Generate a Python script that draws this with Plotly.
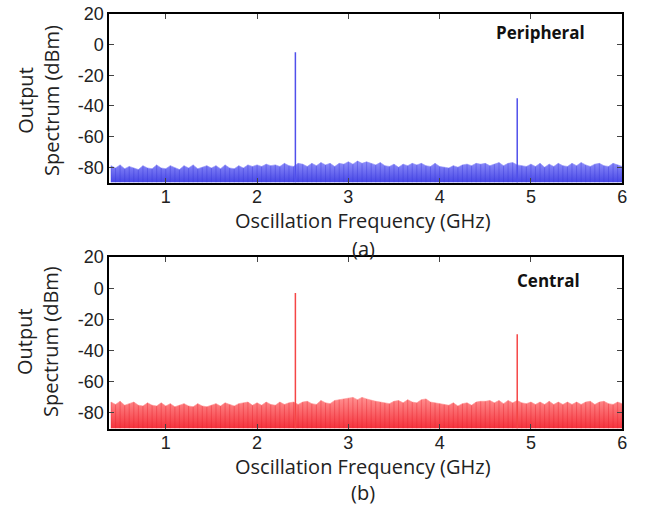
import plotly.graph_objects as go

# ---------------- data ----------------
freq_start = 0.40
freq_step = 0.05
n_points = 113
noise_freq = [round(freq_start + freq_step * i, 2) for i in range(n_points)]

# upper envelope of the noise floor (dBm)
periph_noise = [
    -79, -80.5, -78.5, -81, -79.5, -80.5, -81.5, -79, -80.5, -81, -78.5, -80.5,
    -81, -79, -80.5, -81.5, -79, -80.5, -78.5, -81, -80, -79,
    -80.5, -79, -81, -78.5, -80.5, -81, -79, -80.5, -78.5, -79.5,
    -78.5, -79.5, -78, -79, -78.5, -79.5, -77.5, -79, -79.5, -77.5,
    -78, -79.5, -77.5, -79, -77, -78.5, -77.5, -79.5, -77.5, -78,
    -76.5, -78, -76, -77.5, -76.5, -77.5, -78.5, -77, -79, -79.5,
    -78, -80, -78, -79, -77.5, -78.5, -77.5, -79, -79.5, -77.5,
    -79.5, -80, -80.5, -79, -80, -78.5, -78, -79, -77.5, -78,
    -77.5, -79, -78, -77, -79, -77.5, -77, -78.5, -79, -79.5,
    -78, -79.5, -77.5, -80, -78, -79.5, -77.5, -79, -79.5, -77.5,
    -79, -77, -78.5, -79.5, -78, -77.5, -79, -79.5, -77.5, -78.5,
    -79.5,
]
central_noise = [
    -73, -74.5, -72.5, -75, -74, -73, -75, -75.5, -73.5, -75, -75.5, -73.5,
    -75.5, -74, -76, -75, -74, -75.5, -76, -74, -75.5, -76,
    -75, -74, -75.5, -73.5, -74.5, -75.5, -74, -73.5, -73, -75,
    -73.5, -75, -73, -74.5, -75, -73, -74.5, -73.5, -73, -74.5,
    -73, -72.5, -74, -74.5, -72, -73.5, -74, -72, -71.5, -71,
    -70.5, -70, -71.5, -70, -71, -72, -72.5, -73, -73.5, -74,
    -72.5, -72, -73.5, -71.5, -73, -73.5, -71.5, -71, -73, -73.5,
    -74, -74.5, -75, -73.5, -75.5, -74, -73.5, -75, -73, -72.5,
    -72.5, -72, -73.5, -72, -74, -72, -73.5, -72, -73.5, -74,
    -73, -74.5, -73, -74.5, -72.5, -74.5, -73, -74.5, -73, -74.5,
    -73, -74.5, -73, -72.5, -74.5, -73, -72.5, -74, -74.5, -73,
    -74,
]

peak_freq = [2.42, 4.85]
periph_peaks = [-5, -35]
central_peaks = [-3, -29.5]

axis_floor = -90
x_ticks = [1, 2, 3, 4, 5, 6]
y_ticks = [-80, -60, -40, -20, 0, 20]
y_tick_text = ["-80", "-60", "-40", "-20", "0", "20"]
panel_labels = ["Peripheral", "Central"]
sub_labels = ["(a)", "(b)"]

# ---------------- figure ----------------
W, H = 654, 507
fig = go.Figure()

panels = [
    dict(noise=periph_noise, peaks=periph_peaks, xa="x", ya="y",
         top="rgb(145,145,250)", bottom="rgb(70,70,230)",
         stripe="rgba(55,55,215,0.55)", peak="rgb(80,80,235)"),
    dict(noise=central_noise, peaks=central_peaks, xa="x2", ya="y2",
         top="rgb(255,145,145)", bottom="rgb(245,50,60)",
         stripe="rgba(225,30,40,0.5)", peak="rgb(245,70,70)"),
]

for p in panels:
    fig.add_trace(go.Scatter(
        x=noise_freq, y=[axis_floor] * len(noise_freq), mode="lines",
        line=dict(width=0, color="rgba(0,0,0,0)"), hoverinfo="skip",
        xaxis=p["xa"], yaxis=p["ya"], showlegend=False))
    fig.add_trace(go.Scatter(
        x=noise_freq, y=p["noise"], mode="lines",
        line=dict(width=0.6, color=p["top"]), fill="tonexty",
        fillgradient=dict(type="vertical",
                          colorscale=[[0, p["bottom"]], [1, p["top"]]]),
        xaxis=p["xa"], yaxis=p["ya"], showlegend=False))
    # individual spectral sample lines (texture of the noise floor)
    sx, sy = [], []
    for f, v in zip(noise_freq, p["noise"]):
        sx += [f, f, None]
        sy += [axis_floor, v, None]
    fig.add_trace(go.Scatter(
        x=sx, y=sy, mode="lines", line=dict(width=0.7, color=p["stripe"]),
        hoverinfo="skip", xaxis=p["xa"], yaxis=p["ya"], showlegend=False))
    px, py = [], []
    for f, v in zip(peak_freq, p["peaks"]):
        px += [f, f, None]
        py += [axis_floor, v, None]
    fig.add_trace(go.Scatter(
        x=px, y=py, mode="lines", line=dict(width=1.5, color=p["peak"]),
        xaxis=p["xa"], yaxis=p["ya"], showlegend=False))

# pixel placement (page pixels from top-left)
x0, x1 = 110 / W, 627 / W
doms = [(1 - 176 / H, 1 - 4 / H), (1 - 427 / H, 1 - 252 / H)]

tick_font = dict(family="Liberation Sans, Arial", size=18, color="#222")
axis_common = dict(showline=True, linecolor="black", linewidth=1.5,
                   mirror="allticks", ticks="inside", ticklen=5,
                   tickcolor="#444", showgrid=False, zeroline=False,
                   tickfont=tick_font)

fig.update_layout(
    width=W, height=H, margin=dict(l=0, r=0, t=0, b=0),
    paper_bgcolor="white", plot_bgcolor="white",
    xaxis=dict(domain=[x0, x1], range=[0.38, 6], tickvals=x_ticks,
               anchor="y", ticklabelstandoff=-3, **axis_common),
    yaxis=dict(domain=list(doms[0]), range=[-90, 20], tickvals=y_ticks,
               ticktext=y_tick_text, anchor="x", **axis_common),
    xaxis2=dict(domain=[x0, x1], range=[0.38, 6], tickvals=x_ticks,
                anchor="y2", ticklabelstandoff=-3, **axis_common),
    yaxis2=dict(domain=list(doms[1]), range=[-90, 20], tickvals=y_ticks,
                ticktext=y_tick_text, anchor="x2", **axis_common),
)

title_font = dict(family="Open Sans", size=20, color="#222")
ytitle_y = [92, 338]
xtitle_y = [215, 466]
sub_y = [243, 492]
lab_xy = [(545, 23), (553, 276)]
ann = []
for i, (lab, sub) in enumerate(zip(panel_labels, sub_labels)):
    ann.append(dict(text="Output<br>Spectrum (dBm)", textangle=-90,
                    x=38 / W, y=1 - ytitle_y[i] / H,
                    xref="paper", yref="paper", showarrow=False,
                    font=title_font, xanchor="center", yanchor="middle"))
    ann.append(dict(text="Oscillation Frequency (GHz)", x=366 / W,
                    y=1 - xtitle_y[i] / H, xref="paper", yref="paper",
                    showarrow=False, font=title_font,
                    xanchor="center", yanchor="middle"))
    ann.append(dict(text=sub, x=366 / W, y=1 - sub_y[i] / H,
                    xref="paper", yref="paper", showarrow=False,
                    font=title_font, xanchor="center", yanchor="middle"))
    ann.append(dict(text="<b>%s</b>" % lab,
                    x=lab_xy[i][0] / W, y=1 - lab_xy[i][1] / H,
                    xref="paper", yref="paper", showarrow=False,
                    font=dict(family="Open Sans", size=17, color="#111"),
                    xanchor="center", yanchor="middle"))
fig.update_layout(annotations=ann)

fig.write_html("out.html", config={"displayModeBar": False},
               post_script="document.body.style.margin='0';")
